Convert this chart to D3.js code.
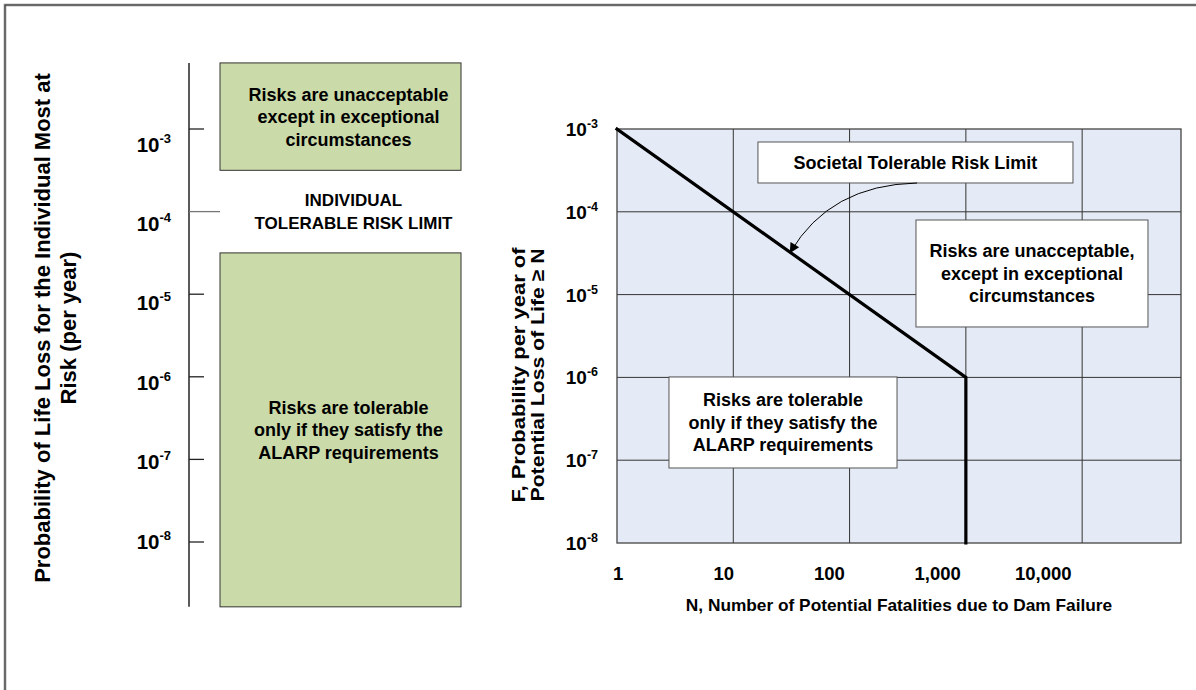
<!DOCTYPE html>
<html lang="en">
<head>
  <meta charset="UTF-8">
  <title>Individual and Societal Tolerable Risk</title>
  <script src="https://d3js.org/d3.v7.min.js"></script>
  <style>
    body { margin: 0; background: #fff; }
    svg { display: block; font-family: "Liberation Sans", Arial, sans-serif; font-weight: bold; }
  </style>
</head>
<body>
  <svg id="chart" width="1196" height="690"></svg>
  <script>
    // exponents shown on both probability axes
    const fExponents = [-3, -4, -5, -6, -7, -8];
    // N axis ticks
    const nTicks = [1, 10, 100, 1000, 10000];
    const nTickLabels = ['1', '10', '100', '1,000', '10,000'];
    // societal tolerable risk limit (F-N line)
    const limitN = [1, 1000, 1000];
    const limitF = [1e-3, 1e-6, 1e-8];
    // individual risk bands (left panel), as probabilities
    const axisExtent = [10 ** -2.2, 10 ** -8.785];
    const upperBand = [10 ** -2.2, 10 ** -3.5];
    const lowerBand = [10 ** -4.5, 10 ** -8.785];
    const individualLimit = 1e-4;

    const upperText = ['Risks are unacceptable', 'except in exceptional', 'circumstances'];
    const limitText = ['INDIVIDUAL', 'TOLERABLE RISK LIMIT'];
    const lowerText = ['Risks are tolerable', 'only if they satisfy the', 'ALARP requirements'];

    // text boxes in the F-N plot, in data units
    const fnBoxes = [
      { n: [10 ** 1.212, 10 ** 3.921], f: [10 ** -3.157, 10 ** -3.652], lines: ['Societal Tolerable Risk Limit'] },
      { n: [10 ** 2.571, 10 ** 4.566], f: [10 ** -4.099, 10 ** -5.391], lines: ['Risks are unacceptable,', 'except in exceptional', 'circumstances'] },
      { n: [10 ** 0.447, 10 ** 2.408], f: [10 ** -5.995, 10 ** -7.094], lines: ['Risks are tolerable', 'only if they satisfy the', 'ALARP requirements'] }
    ];
    // arrow from the label box to the limit line: start, control, tip
    const arrowN = [10 ** 2.58, 10 ** 1.83, 10 ** 1.49];
    const arrowF = [10 ** -3.652, 10 ** -3.676, 10 ** -4.49];

    const svg = d3.select('#chart');
    const lh = 22.5;

    // page frame
    svg.append('rect').attr('x', 5).attr('y', 5).attr('width', 1400).attr('height', 900)
      .attr('fill', 'none').attr('stroke', '#bbb').attr('stroke-width', 3);
    svg.append('rect').attr('x', 5).attr('y', 5).attr('width', 1400).attr('height', 900)
      .attr('fill', 'none').attr('stroke', '#333').attr('stroke-width', 1.2);

    function lines(g, arr, x, cy, size) {
      const t = g.append('text').attr('text-anchor', 'middle').attr('font-size', size).attr('fill', '#000');
      arr.forEach((s, i) => {
        t.append('tspan').attr('x', x)
          .attr('y', cy + 6.5 + (i - (arr.length - 1) / 2) * lh).text(s);
      });
    }

    function powLabel(g, x, y, e, big, small, rise) {
      const t = g.append('text').attr('x', x).attr('y', y).attr('text-anchor', 'end')
        .attr('fill', '#000').attr('font-size', big);
      t.append('tspan').text('10');
      t.append('tspan').attr('font-size', small).attr('dy', -rise).text(e);
    }

    // ---------- left panel: individual risk ----------
    const yL = d3.scaleLog().domain([1e-8, 1e-3]).range([542, 129]);
    const yLab = d3.scaleLog().domain([1e-8, 1e-3]).range([541, 144]);
    const axX = 189, boxX0 = 220, boxX1 = 461;
    const left = svg.append('g');

    left.append('line').attr('x1', axX).attr('x2', axX)
      .attr('y1', yL(axisExtent[0])).attr('y2', yL(axisExtent[1]))
      .attr('stroke', '#000').attr('stroke-width', 1.3);

    left.selectAll('.tk').data(fExponents).enter().append('line')
      .attr('x1', axX).attr('x2', d => 10 ** d === individualLimit ? boxX0 : 204)
      .attr('y1', d => yL(10 ** d)).attr('y2', d => yL(10 ** d))
      .attr('stroke', d => 10 ** d === individualLimit ? '#777' : '#222').attr('stroke-width', 1.3);

    fExponents.forEach(d => powLabel(left, 171, yLab(10 ** d) + 7.5, d, 20.5, 13, 9));

    [upperBand, lowerBand].forEach(b => {
      left.append('rect').attr('x', boxX0).attr('width', boxX1 - boxX0)
        .attr('y', yL(b[0])).attr('height', yL(b[1]) - yL(b[0]))
        .attr('fill', '#cbdaa9').attr('stroke', '#333').attr('stroke-width', 1);
    });
    const textX = (boxX0 + boxX1) / 2 + 8;
    lines(left, upperText, textX, (yL(upperBand[0]) + yL(upperBand[1])) / 2, 18);
    lines(left, limitText, textX + 5, yL(individualLimit) - 0.5, 17);
    lines(left, lowerText, textX, (yL(lowerBand[0]) + yL(lowerBand[1])) / 2, 18);

    const lt = left.append('text').attr('transform', 'translate(0,328) rotate(-90)')
      .attr('text-anchor', 'middle').attr('font-size', 22).attr('fill', '#000');
    lt.append('tspan').attr('x', 0).attr('y', 50).text('Probability of Life Loss for the Individual Most at');
    lt.append('tspan').attr('x', 0).attr('y', 76).text('Risk (per year)');

    // ---------- right panel: F-N chart ----------
    const x = d3.scaleLog().domain([1, 10 ** 4.85]).range([617, 1181]);
    const y = d3.scaleLog().domain([1e-8, 1e-3]).range([543, 129]);
    // tick labels sit left of their gridlines, slightly tighter spacing
    const xLab = d3.scaleLog().domain([1, 10000]).range([613, 1015]);
    const right = svg.append('g');

    right.append('rect').attr('x', x.range()[0]).attr('y', y.range()[1])
      .attr('width', x.range()[1] - x.range()[0]).attr('height', y.range()[0] - y.range()[1])
      .attr('fill', '#e5ebf6');

    right.append('g').selectAll('line').data(nTicks.slice(1)).enter().append('line')
      .attr('x1', d => x(d)).attr('x2', d => x(d)).attr('y1', y.range()[1]).attr('y2', y.range()[0])
      .attr('stroke', '#333').attr('stroke-width', 1);
    right.append('g').selectAll('line').data(fExponents.slice(1, -1)).enter().append('line')
      .attr('x1', x.range()[0]).attr('x2', x.range()[1]).attr('y1', d => y(10 ** d)).attr('y2', d => y(10 ** d))
      .attr('stroke', '#333').attr('stroke-width', 1);

    right.append('rect').attr('x', x.range()[0]).attr('y', y.range()[1])
      .attr('width', x.range()[1] - x.range()[0]).attr('height', y.range()[0] - y.range()[1])
      .attr('fill', 'none').attr('stroke', '#444').attr('stroke-width', 1.3);

    fnBoxes.forEach(b => {
      const x0 = x(b.n[0]), x1 = x(b.n[1]), y0 = y(b.f[0]), y1 = y(b.f[1]);
      right.append('rect').attr('x', x0).attr('y', y0).attr('width', x1 - x0).attr('height', y1 - y0)
        .attr('fill', '#fff').attr('stroke', '#555').attr('stroke-width', 1);
      lines(right, b.lines, (x0 + x1) / 2, (y0 + y1) / 2, 18);
    });

    svg.append('defs').append('marker').attr('id', 'head')
      .attr('viewBox', '0 0 10 10').attr('refX', 9).attr('refY', 5)
      .attr('markerWidth', 12).attr('markerHeight', 10).attr('markerUnits', 'userSpaceOnUse')
      .attr('orient', 'auto')
      .append('path').attr('d', 'M0,0 L10,5 L0,10 Z').attr('fill', '#000');

    const ap = d3.path();
    ap.moveTo(x(arrowN[0]), y(arrowF[0]));
    ap.quadraticCurveTo(x(arrowN[1]), y(arrowF[1]), x(arrowN[2]), y(arrowF[2]));
    right.append('path').attr('d', ap.toString()).attr('fill', 'none')
      .attr('stroke', '#000').attr('stroke-width', 1).attr('marker-end', 'url(#head)');

    const limit = limitN.map((n, i) => [n, limitF[i]]);
    right.append('path').datum(limit)
      .attr('d', d3.line().x(d => x(d[0])).y(d => y(d[1])))
      .attr('fill', 'none').attr('stroke', '#000').attr('stroke-width', 3.2)
      .attr('stroke-linejoin', 'miter').attr('stroke-linecap', 'square');

    fExponents.forEach(d => powLabel(right, 598, y(10 ** d) + 7, d, 19, 12.5, 8));

    right.selectAll('.nl').data(nTicks).enter().append('text')
      .attr('x', d => xLab(d)).attr('y', 580).attr('text-anchor', 'start')
      .attr('font-size', 18.5).attr('fill', '#000')
      .text((d, i) => nTickLabels[i]);

    right.append('text').attr('x', (x.range()[0] + x.range()[1]) / 2).attr('y', 611)
      .attr('text-anchor', 'middle').attr('font-size', 17.3).attr('fill', '#000')
      .text('N, Number of Potential Fatalities due to Dam Failure');

    const rt = right.append('text').attr('transform', 'translate(0,375) rotate(-90)')
      .attr('text-anchor', 'middle').attr('font-size', 19).attr('fill', '#000');
    rt.append('tspan').attr('x', 0).attr('y', 525).attr('textLength', 255)
      .attr('lengthAdjust', 'spacingAndGlyphs').text('F, Probability per year of');
    rt.append('tspan').attr('x', 0).attr('y', 544).attr('textLength', 253)
      .attr('lengthAdjust', 'spacingAndGlyphs').text('Potential Loss of Life \u2265 N');
  </script>
</body>
</html>
